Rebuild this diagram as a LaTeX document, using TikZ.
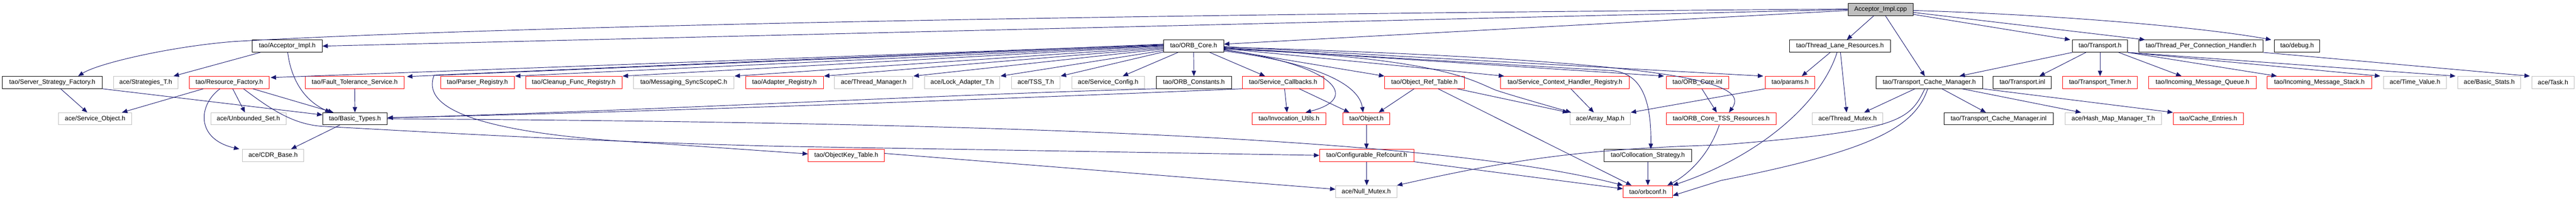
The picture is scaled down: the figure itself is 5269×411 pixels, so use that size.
\documentclass[tikz,border=0pt]{standalone}
\usepackage{fontspec}
\setmainfont{Liberation Sans}
\usetikzlibrary{arrows.meta}
\definecolor{edgeblue}{HTML}{191970}
\definecolor{boxgray}{HTML}{BFBFBF}
\definecolor{boxred}{HTML}{FF0000}
\begin{document}
\begin{tikzpicture}[x=1pt,y=-1pt,
  box/.style={draw, line width=1pt, minimum height=25pt, inner sep=0pt, font=\fontsize{13pt}{15pt}\selectfont},
  kbox/.style={box, draw=black},
  rbox/.style={box, draw=boxred},
  gbox/.style={box, draw=boxgray},
  dep/.style={draw=edgeblue, line width=1pt, -{Triangle[length=11pt,width=9pt]}}]
\useasboundingbox (0,0) rectangle (5269,411);

% row 0
\node[kbox, fill=boxgray, minimum width=133pt] (cpp) at (3846.5,19.5) {Acceptor\_Impl.cpp};
% row 1
\node[kbox, minimum width=143pt] (accH) at (587.5,94.5) {tao/Acceptor\_Impl.h};
\node[kbox, minimum width=123pt] (orbcore) at (2441.5,94.5) {tao/ORB\_Core.h};
\node[kbox, minimum width=207pt] (tlr) at (3763.5,94.5) {tao/Thread\_Lane\_Resources.h};
\node[kbox, minimum width=113pt] (transport) at (4295.5,94.5) {tao/Transport.h};
\node[kbox, minimum width=254pt] (tpch) at (4502,94.5) {tao/Thread\_Per\_Connection\_Handler.h};
\node[kbox, minimum width=93pt] (debug) at (4698.5,94.5) {tao/debug.h};
% row 2
\node[kbox, minimum width=204pt] (ssf) at (107,169) {tao/Server\_Strategy\_Factory.h};
\node[gbox, minimum width=132pt] (strat) at (298,169) {ace/Strategies\_T.h};
\node[rbox, minimum width=164pt] (rf) at (469,169) {tao/Resource\_Factory.h};
\node[rbox, minimum width=203pt] (fts) at (725.5,169) {tao/Fault\_Tolerance\_Service.h};
\node[rbox, minimum width=151pt] (parser) at (976.5,169) {tao/Parser\_Registry.h};
\node[rbox, minimum width=197pt] (cleanup) at (1173.5,169) {tao/Cleanup\_Func\_Registry.h};
\node[gbox, minimum width=205pt] (msync) at (1398.5,169) {tao/Messaging\_SyncScopeC.h};
\node[rbox, minimum width=159pt] (adapter) at (1604.5,169) {tao/Adapter\_Registry.h};
\node[gbox, minimum width=160pt] (thrmgr) at (1787,169) {ace/Thread\_Manager.h};
\node[gbox, minimum width=154pt] (lockad) at (1968,169) {ace/Lock\_Adapter\_T.h};
\node[gbox, minimum width=99pt] (tss) at (2118.5,169) {ace/TSS\_T.h};
\node[gbox, minimum width=149pt] (svccfg) at (2266.5,169) {ace/Service\_Config.h};
\node[kbox, minimum width=154pt] (orbconst) at (2442,169) {tao/ORB\_Constants.h};
\node[rbox, minimum width=167pt] (svccb) at (2624.5,169) {tao/Service\_Callbacks.h};
\node[rbox, minimum width=163pt] (ort) at (2913.5,169) {tao/Object\_Ref\_Table.h};
\node[rbox, minimum width=264pt] (schr) at (3201,169) {tao/Service\_Context\_Handler\_Registry.h};
\node[rbox, minimum width=128pt] (orbinl) at (3472,169) {tao/ORB\_Core.inl};
\node[rbox, minimum width=101pt] (params) at (3661.5,169) {tao/params.h};
\node[kbox, minimum width=218pt] (tcm) at (3946,169) {tao/Transport\_Cache\_Manager.h};
\node[kbox, minimum width=119pt] (tinl) at (4136.5,169) {tao/Transport.inl};
\node[rbox, minimum width=153pt] (ttimer) at (4295.5,169) {tao/Transport\_Timer.h};
\node[rbox, minimum width=220pt] (imq) at (4505,169) {tao/Incoming\_Message\_Queue.h};
\node[rbox, minimum width=214pt] (ims) at (4744,169) {tao/Incoming\_Message\_Stack.h};
\node[gbox, minimum width=129pt] (timev) at (4939.5,169) {ace/Time\_Value.h};
\node[gbox, minimum width=129pt] (bstats) at (5091.5,169) {ace/Basic\_Stats.h};
\node[gbox, minimum width=86pt] (task) at (5222,169) {ace/Task.h};
% row 3
\node[gbox, minimum width=149pt] (svcobj) at (194.5,243.5) {ace/Service\_Object.h};
\node[gbox, minimum width=154pt] (uset) at (508,243.5) {ace/Unbounded\_Set.h};
\node[kbox, minimum width=132pt] (btypes) at (726,243.5) {tao/Basic\_Types.h};
\node[rbox, minimum width=151pt] (invu) at (2636.5,243.5) {tao/Invocation\_Utils.h};
\node[rbox, minimum width=96pt] (object) at (2795,243.5) {tao/Object.h};
\node[gbox, minimum width=124pt] (amap) at (3273,243.5) {ace/Array\_Map.h};
\node[rbox, minimum width=225pt] (tssres) at (3520.5,243.5) {tao/ORB\_Core\_TSS\_Resources.h};
\node[gbox, minimum width=144pt] (tmutex) at (3779,243.5) {ace/Thread\_Mutex.h};
\node[kbox, minimum width=224pt] (tcminl) at (4088,243.5) {tao/Transport\_Cache\_Manager.inl};
\node[gbox, minimum width=197pt] (hmm) at (4322.5,243.5) {ace/Hash\_Map\_Manager\_T.h};
\node[rbox, minimum width=144pt] (cent) at (4517,243.5) {tao/Cache\_Entries.h};
% row 4
\node[gbox, minimum width=125pt] (cdr) at (558.5,318.5) {ace/CDR\_Base.h};
\node[rbox, minimum width=156pt] (okt) at (1731,318.5) {tao/ObjectKey\_Table.h};
\node[rbox, minimum width=193pt] (cref) at (2795.5,318.5) {tao/Configurable\_Refcount.h};
\node[kbox, minimum width=179pt] (colloc) at (3370.5,318.5) {tao/Collocation\_Strategy.h};
% row 5
\node[gbox, minimum width=125pt] (nmutex) at (2794.5,393) {ace/Null\_Mutex.h};
\node[rbox, minimum width=101pt] (orbconf) at (3370.5,393) {tao/orbconf.h};

% edges from Acceptor_Impl.cpp
\draw[dep] (cpp.west) -- (accH.east);
\draw[dep] ([yshift=1pt]cpp.west) .. controls (2200,30) and (1000,55) .. (480,85) .. controls (350,95) and (200,130) .. ([xshift=53pt]ssf.north);
\draw[dep] ([yshift=-2pt]cpp.west) -- ([yshift=4pt]orbcore.east);
\draw[dep] ([xshift=-14pt]cpp.south) -- ([xshift=14pt]tlr.north);
\draw[dep] ([xshift=10pt]cpp.south) -- ([xshift=-9pt]tcm.north);
\draw[dep] ([yshift=-10pt]cpp.east) -- ([xshift=-4pt]transport.north west);
\draw[dep] ([yshift=-6pt]cpp.east) -- ([xshift=13pt]tpch.north west);
\draw[dep] ([yshift=-2pt]cpp.east) .. controls (4200,30) and (4500,55) .. ([xshift=-6pt]debug.north west);

% Acceptor_Impl.h
\draw[dep] ([xshift=-55pt]accH.south) -- ([xshift=57pt]strat.north);
\draw[dep] ([xshift=1pt]accH.south) .. controls (595,160) and (620,205) .. ([xshift=-50pt]btypes.north);

% Server_Strategy_Factory.h
\draw[dep] ([xshift=17pt]ssf.south) -- ([xshift=-16pt]svcobj.north);
\draw[dep] (ssf.south east) -- ([yshift=8pt]btypes.west);

% Resource_Factory.h
\draw[dep] ([xshift=-53pt]rf.south) -- ([xshift=55pt]svcobj.north);
\draw[dep] ([xshift=7pt]rf.south) -- ([xshift=-7pt]uset.north);
\draw[dep] ([xshift=48pt]rf.south) -- ([xshift=-44pt]btypes.north);
\draw[dep] ([xshift=-19pt]rf.south) .. controls (405,215) and (400,285) .. ([xshift=-6pt]cdr.north west);
\draw[dep] ([xshift=29pt]rf.south) .. controls (555,225) and (600,255) .. (660,259) .. controls (900,272) and (1200,290) .. (1600,300) -- (cref.west);

% Fault_Tolerance_Service.h
\draw[dep] (fts.south) -- (btypes.north);

% Basic_Types.h
\draw[dep] ([xshift=-31pt]btypes.south) -- ([xshift=37pt]cdr.north);
\draw[dep] (btypes.east) .. controls (1800,250) and (2900,270) .. (orbconf.north west);

% into Basic_Types.h from the right
\draw[dep] (svccb.south west) .. controls (2000,205) and (1300,230) .. ([yshift=2pt]btypes.east);
\draw[dep] (orbconst.south west) .. controls (1900,195) and (1300,228) .. ([yshift=2pt]btypes.east);

% ORB_Core.h
\draw[dep] ([yshift=3pt]orbcore.west) -- ([xshift=2pt,yshift=-3pt]rf.north east);
\draw[dep] ([yshift=2pt]orbcore.west) -- ([xshift=5pt,yshift=-1pt]fts.north east);
\draw[dep] ([yshift=1pt]orbcore.west) -- ([xshift=1pt]parser.north east);
\draw[dep] (orbcore.west) -- ([xshift=1pt]cleanup.north east);
\draw[dep] ([yshift=-2pt]orbcore.west) -- ([xshift=1pt]msync.north east);
\draw[dep] ([yshift=-4pt]orbcore.west) -- ([xshift=1pt]adapter.north east);
\draw[dep] ([yshift=-6pt]orbcore.west) -- ([xshift=1pt]thrmgr.north east);
\draw[dep] ([yshift=-9pt]orbcore.west) -- ([xshift=1pt]lockad.north east);
\draw[dep] ([yshift=-12pt]orbcore.west) -- ([xshift=1pt]tss.north east);
\draw[dep] ([xshift=-32pt]orbcore.south) -- ([xshift=30pt]svccfg.north);
\draw[dep] (orbcore.south) -- (orbconst.north);
\draw[dep] ([xshift=33pt]orbcore.south) -- ([xshift=-37pt]svccb.north);
\draw[dep] ([yshift=-7pt]orbcore.east) -- (ort.north west);
\draw[dep] ([yshift=-5pt]orbcore.east) -- ([xshift=8pt]schr.north west);
\draw[dep] ([yshift=-3pt]orbcore.east) -- ([xshift=-4pt]orbinl.north west);
\draw[dep] ([yshift=-1pt]orbcore.east) -- ([xshift=-4pt]params.north west);
\draw[dep] ([yshift=-8pt]orbcore.east) .. controls (2720,130) and (2790,200) .. ([xshift=34pt]invu.north);
\draw[dep] ([yshift=-10pt]orbcore.east) .. controls (2700,130) and (2780,175) .. ([xshift=-7pt]object.north);
\draw[dep] ([yshift=-6pt]orbcore.east) .. controls (2950,118) and (3010,165) .. (3060,185) .. controls (3100,198) and (3150,212) .. ([xshift=3pt]amap.north west);
\draw[dep] ([yshift=-2pt]orbcore.east) .. controls (3450,125) and (3580,170) .. ([xshift=16pt]tssres.north);
\draw[dep] ([yshift=-4pt]orbcore.east) -- (3300,145) .. controls (3355,152) and (3378,200) .. ([xshift=6pt]colloc.north);
\draw[dep] ([yshift=4pt]orbcore.west) -- (888,154) .. controls (870,200) and (900,270) .. (1330,293) -- ([yshift=3pt]okt.west);

% Object_Ref_Table.h
\draw[dep] ([xshift=-21pt]ort.south) -- ([xshift=25pt]object.north);
\draw[dep] ([xshift=67pt]ort.south) -- ([xshift=-3pt]amap.north west);
\draw[dep] ([xshift=28pt]ort.south) -- ([xshift=-33.5pt]orbconf.north);

% Service_Callbacks.h
\draw[dep] ([xshift=3pt]svccb.south) -- ([xshift=-4pt]invu.north);
\draw[dep] ([xshift=33pt]svccb.south) -- ([xshift=-35pt]object.north);

% Object.h, Configurable_Refcount.h, ObjectKey_Table.h
\draw[dep] (object.south) -- ([xshift=-0.5pt]cref.north);
\draw[dep] (cref.south) -- ([xshift=1pt]nmutex.north);
\draw[dep] (cref.south east) -- ([yshift=6pt]orbconf.west);
\draw[dep] ([yshift=4pt]okt.east) -- ([yshift=5pt]nmutex.west);

% Service_Context_Handler_Registry.h, ORB_Core.inl, TSS resources, Collocation
\draw[dep] ([xshift=12pt]schr.south) -- ([xshift=-13pt]amap.north);
\draw[dep] ([xshift=9pt]orbinl.south) -- ([xshift=-9pt]tssres.north);
\draw[dep] ([xshift=-4pt]tssres.south) .. controls (3495,320) and (3450,360) .. ([xshift=40pt]orbconf.north);
\draw[dep] (colloc.south) -- (orbconf.north);

% params.h
\draw[dep] (params.south west) -- (amap.north east);

% Thread_Lane_Resources.h
\draw[dep] ([xshift=-20pt]tlr.south) -- ([xshift=24pt]params.north);
\draw[dep] ([xshift=1pt]tlr.south) -- ([xshift=-2pt]tmutex.north);
\draw[dep] ([xshift=-6pt]tlr.south) .. controls (3725,210) and (3600,320) .. (orbconf.north east);

% Transport_Cache_Manager.h
\draw[dep] ([xshift=-29pt]tcm.south) -- ([xshift=34pt]tmutex.north);
\draw[dep] ([xshift=-9pt]tcm.south) .. controls (3905,250) and (3880,268) .. (3520,297) .. controls (3250,305) and (3100,325) .. (nmutex.north east);
\draw[dep] ([xshift=-3pt]tcm.south) .. controls (3915,265) and (3820,310) .. (3520,370) -- ([yshift=-8pt]orbconf.east);
\draw[dep] ([xshift=26pt]tcm.south) -- ([xshift=-26pt]tcminl.north);
\draw[dep] ([xshift=67pt]tcm.south) -- ([xshift=-66pt]hmm.north);
\draw[dep] (tcm.south east) -- (cent.north west);

% Transport.h
\draw[dep] (transport.south west) -- ([xshift=62pt]tcm.north);
\draw[dep] ([xshift=-29pt]transport.south) -- ([xshift=35pt]tinl.north);
\draw[dep] (transport.south) -- (ttimer.north);
\draw[dep] ([xshift=38pt]transport.south) -- ([xshift=-43pt]imq.north);
\draw[dep] (transport.south east) -- ([xshift=-87pt]ims.north);
\draw[dep] (transport.south east) -- ([xshift=-6pt]timev.north west);
\draw[dep] (transport.south east) -- ([xshift=-4pt]bstats.north west);

% Thread_Per_Connection_Handler.h
\draw[dep] (tpch.south east) -- ([xshift=-4pt]task.north west);
\end{tikzpicture}
\end{document}
